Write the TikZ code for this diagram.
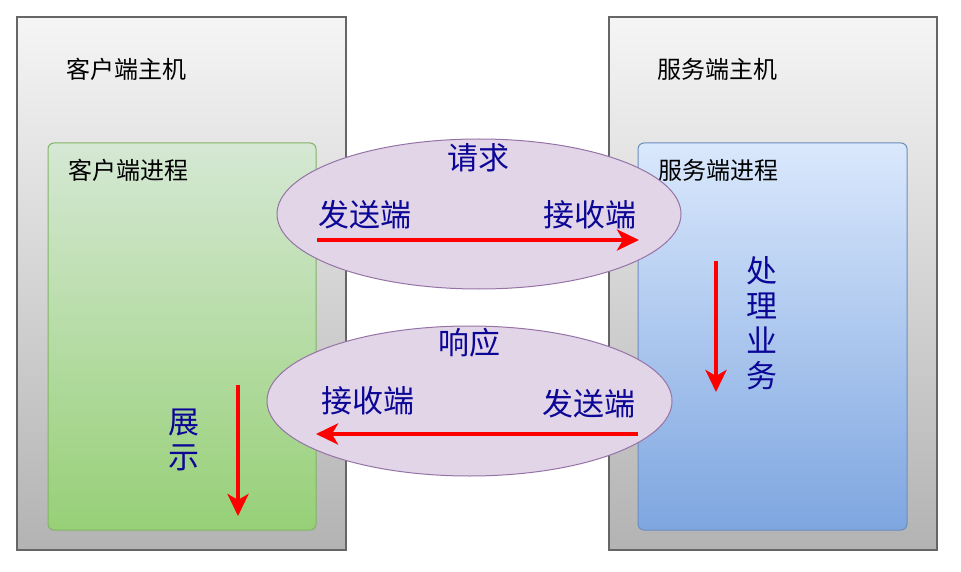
\documentclass[tikz,border=0pt]{standalone}
\usepackage{fontspec}
\usepackage{xcolor}
\usepackage{tikz}
\usetikzlibrary{shapes.geometric, positioning, arrows.meta, calc}
\setmainfont{Noto Sans CJK SC}

\definecolor{hostline}{HTML}{666666}
\definecolor{hosttop}{HTML}{F5F5F5}
\definecolor{hostbot}{HTML}{B3B3B3}
\definecolor{cliline}{HTML}{82B366}
\definecolor{clitop}{HTML}{D5E8D4}
\definecolor{clibot}{HTML}{97D077}
\definecolor{srvline}{HTML}{6C8EBF}
\definecolor{srvtop}{HTML}{DAE8FC}
\definecolor{srvbot}{HTML}{7EA6E0}
\definecolor{msgfill}{HTML}{E1D5E7}
\definecolor{msgline}{HTML}{9673A6}
\definecolor{msgtext}{RGB}{12,6,150}

\tikzset{
  hostbox/.style={draw=hostline, line width=1.4pt, rectangle, top color=hosttop, bottom color=hostbot, minimum width=329pt, minimum height=533pt},
  procbox/.style={rectangle, rounded corners=6pt, line width=1pt, minimum height=387pt},
  msgblob/.style={draw=msgline, line width=1pt, ellipse, fill=msgfill, minimum width=404pt, minimum height=150pt},
  boxlabel/.style={anchor=west, inner sep=0pt, font=\fontsize{24}{28}\selectfont},
  msglabel/.style={inner sep=0pt, text=msgtext, font=\fontsize{31}{35}\selectfont, align=center},
  flow/.style={draw=red, line width=4pt, -{Stealth[length=22pt, width=21pt, inset=6pt]}}
}

\begin{document}
\begin{tikzpicture}[x=1pt, y=-1pt]
        \useasboundingbox (0,0) rectangle (961,572);

        % Hosts
        \node[hostbox] (hostL) at (181.5,283.5) {};
        \node[hostbox, minimum width=328pt] (hostR) at (773,283.5) {};
        \node[boxlabel] (hostLname) at (66,69) {客户端主机};
        \node[boxlabel] (hostRname) at (657,69) {服务端主机};

        % Processes
        \node[procbox, draw=cliline, top color=clitop, bottom color=clibot, minimum width=268pt] (procL) at (182,336.5) {};
        \node[procbox, draw=srvline, top color=srvtop, bottom color=srvbot, minimum width=269pt] (procR) at (772.5,336.5) {};
        \node[boxlabel] (procLname) at (68,170) {客户端进程};
        \node[boxlabel] (procRname) at (658,170) {服务端进程};

        % Request / response
        \node[msgblob] (req) at (479,214) {};
        \node[msgblob, minimum width=405pt] (resp) at (469.5,401) {};

        \node[msglabel] (reqname) at (478,158) {请求};
        \node[msglabel] (reqsend) at (365,215) {发送端};
        \node[msglabel] (reqrecv) at (590,215) {接收端};

        \node[msglabel] (respname) at (469,343) {响应};
        \node[msglabel] (resprecv) at (368,401) {接收端};
        \node[msglabel] (respsend) at (589,404) {发送端};

        \node[msglabel] (work) at (762,323) {处\\理\\业\\务};
        \node[msglabel] (show) at (184,439.5) {展\\示};

        % Arrows
        \coordinate (reqA) at (317,240);
        \coordinate (reqB) at (639,240);
        \coordinate (respA) at (638,434);
        \coordinate (respB) at (316,434);
        \coordinate (workA) at (716,261);
        \coordinate (workB) at (716,392);
        \coordinate (showA) at (238,385);
        \coordinate (showB) at (238,516);

        \draw[flow] (reqA) -- (reqB);
        \draw[flow] (respA) -- (respB);
        \draw[flow] (workA) -- (workB);
        \draw[flow] (showA) -- (showB);

    \end{tikzpicture}
\end{document}
